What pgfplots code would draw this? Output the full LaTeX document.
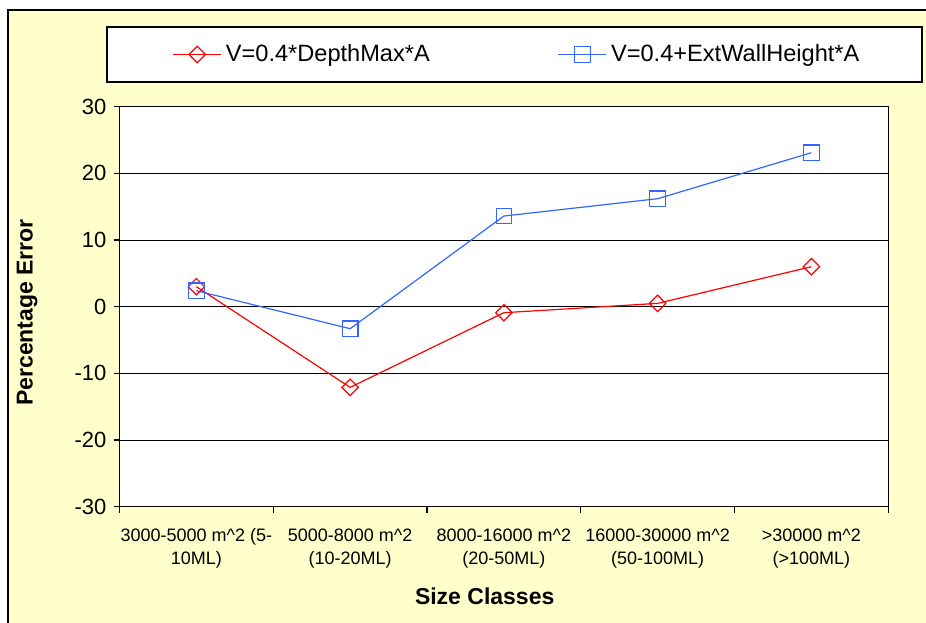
\documentclass[border=0pt]{standalone}
\usepackage{fontspec}
\setmainfont{Liberation Sans}
\usepackage{pgfplots}
\pgfplotsset{compat=1.18}
\definecolor{cream}{HTML}{FFFFCC}
\definecolor{exred}{HTML}{FF0000}
\definecolor{exblue}{HTML}{3366FF}
\begin{document}
\begin{tikzpicture}[x=0.5pt,y=0.5pt]
\useasboundingbox (0,0) rectangle (926,622);
\fill[white] (0,0) rectangle (926,622);
\begin{scope}
\clip (0,0) rectangle (926,622);
\draw[black, line width=0.8pt, fill=cream] (8,612) rectangle (940,-10);
\end{scope}
\draw[black, line width=0.6pt, fill=white] (107,540) rectangle (922,595);
\begin{axis}[
  at={(59.75pt,57.65pt)}, anchor=south west,
  width=384.4pt, height=200pt, scale only axis,
  xmin=-0.5, xmax=4.5, ymin=-30, ymax=30,
  xtick={0,1,2,3,4},
  xticklabels={{3000-5000 m\textasciicircum 2 (5-\\10ML)},{5000-8000 m\textasciicircum 2\\(10-20ML)},{8000-16000 m\textasciicircum 2\\(20-50ML)},{16000-30000 m\textasciicircum 2\\(50-100ML)},{>30000 m\textasciicircum 2\\(>100ML)}},
  minor xtick={-0.5,0.5,1.5,2.5,3.5,4.5},
  ytick={-30,-20,...,30},
  tick align=outside, xtick pos=bottom, ytick pos=left,
  major tick length=3pt, minor tick length=3pt,
  major x tick style={draw=none},
  minor x tick style={black, line width=0.6pt},
  ytick style={black, line width=0.6pt},
  ymajorgrids, major grid style={black, line width=0.5pt},
  axis line style={black, line width=0.7pt},
  axis background/.style={fill=white},
  /pgf/number format/assume math mode=true,
  yticklabel style={font=\fontsize{11}{13}\selectfont},
  xticklabel style={font=\fontsize{9}{11.5}\selectfont, align=center, yshift=-4.5pt},
  xlabel={Size Classes}, ylabel={Percentage Error},
  label style={font=\bfseries\fontsize{11.5}{14}\selectfont},
  xlabel style={at={(axis description cs:0.475,-0.225)}, anchor=center},
  ylabel style={at={(axis description cs:-0.120,0.4855)}, anchor=center},
  legend columns=2,
  legend style={draw=none, fill=none, at={(axis description cs:0.5184,1.1305)}, anchor=center,
    font=\fontsize{11.8}{14}\selectfont,
    /tikz/every even column/.append style={column sep=62pt}},
  legend image code/.code={\draw[mark repeat=2,mark phase=2] plot coordinates {(0pt,0pt) (12pt,0pt) (24pt,0pt)};},
]
\addplot[exred, line width=0.6pt, mark=square, mark size=2.9pt, mark options={rotate=45, solid}]
  coordinates {(0,3.0) (1,-12.1) (2,-0.9) (3,0.5) (4,6.0)};
\addlegendentry{V=0.4*DepthMax*A}
\addplot[exblue, line width=0.6pt, mark=square, mark size=3.9pt, mark options={solid}]
  coordinates {(0,2.4) (1,-3.3) (2,13.6) (3,16.2) (4,23.1)};
\addlegendentry{V=0.4+ExtWallHeight*A}
\end{axis}
\end{tikzpicture}
\end{document}
